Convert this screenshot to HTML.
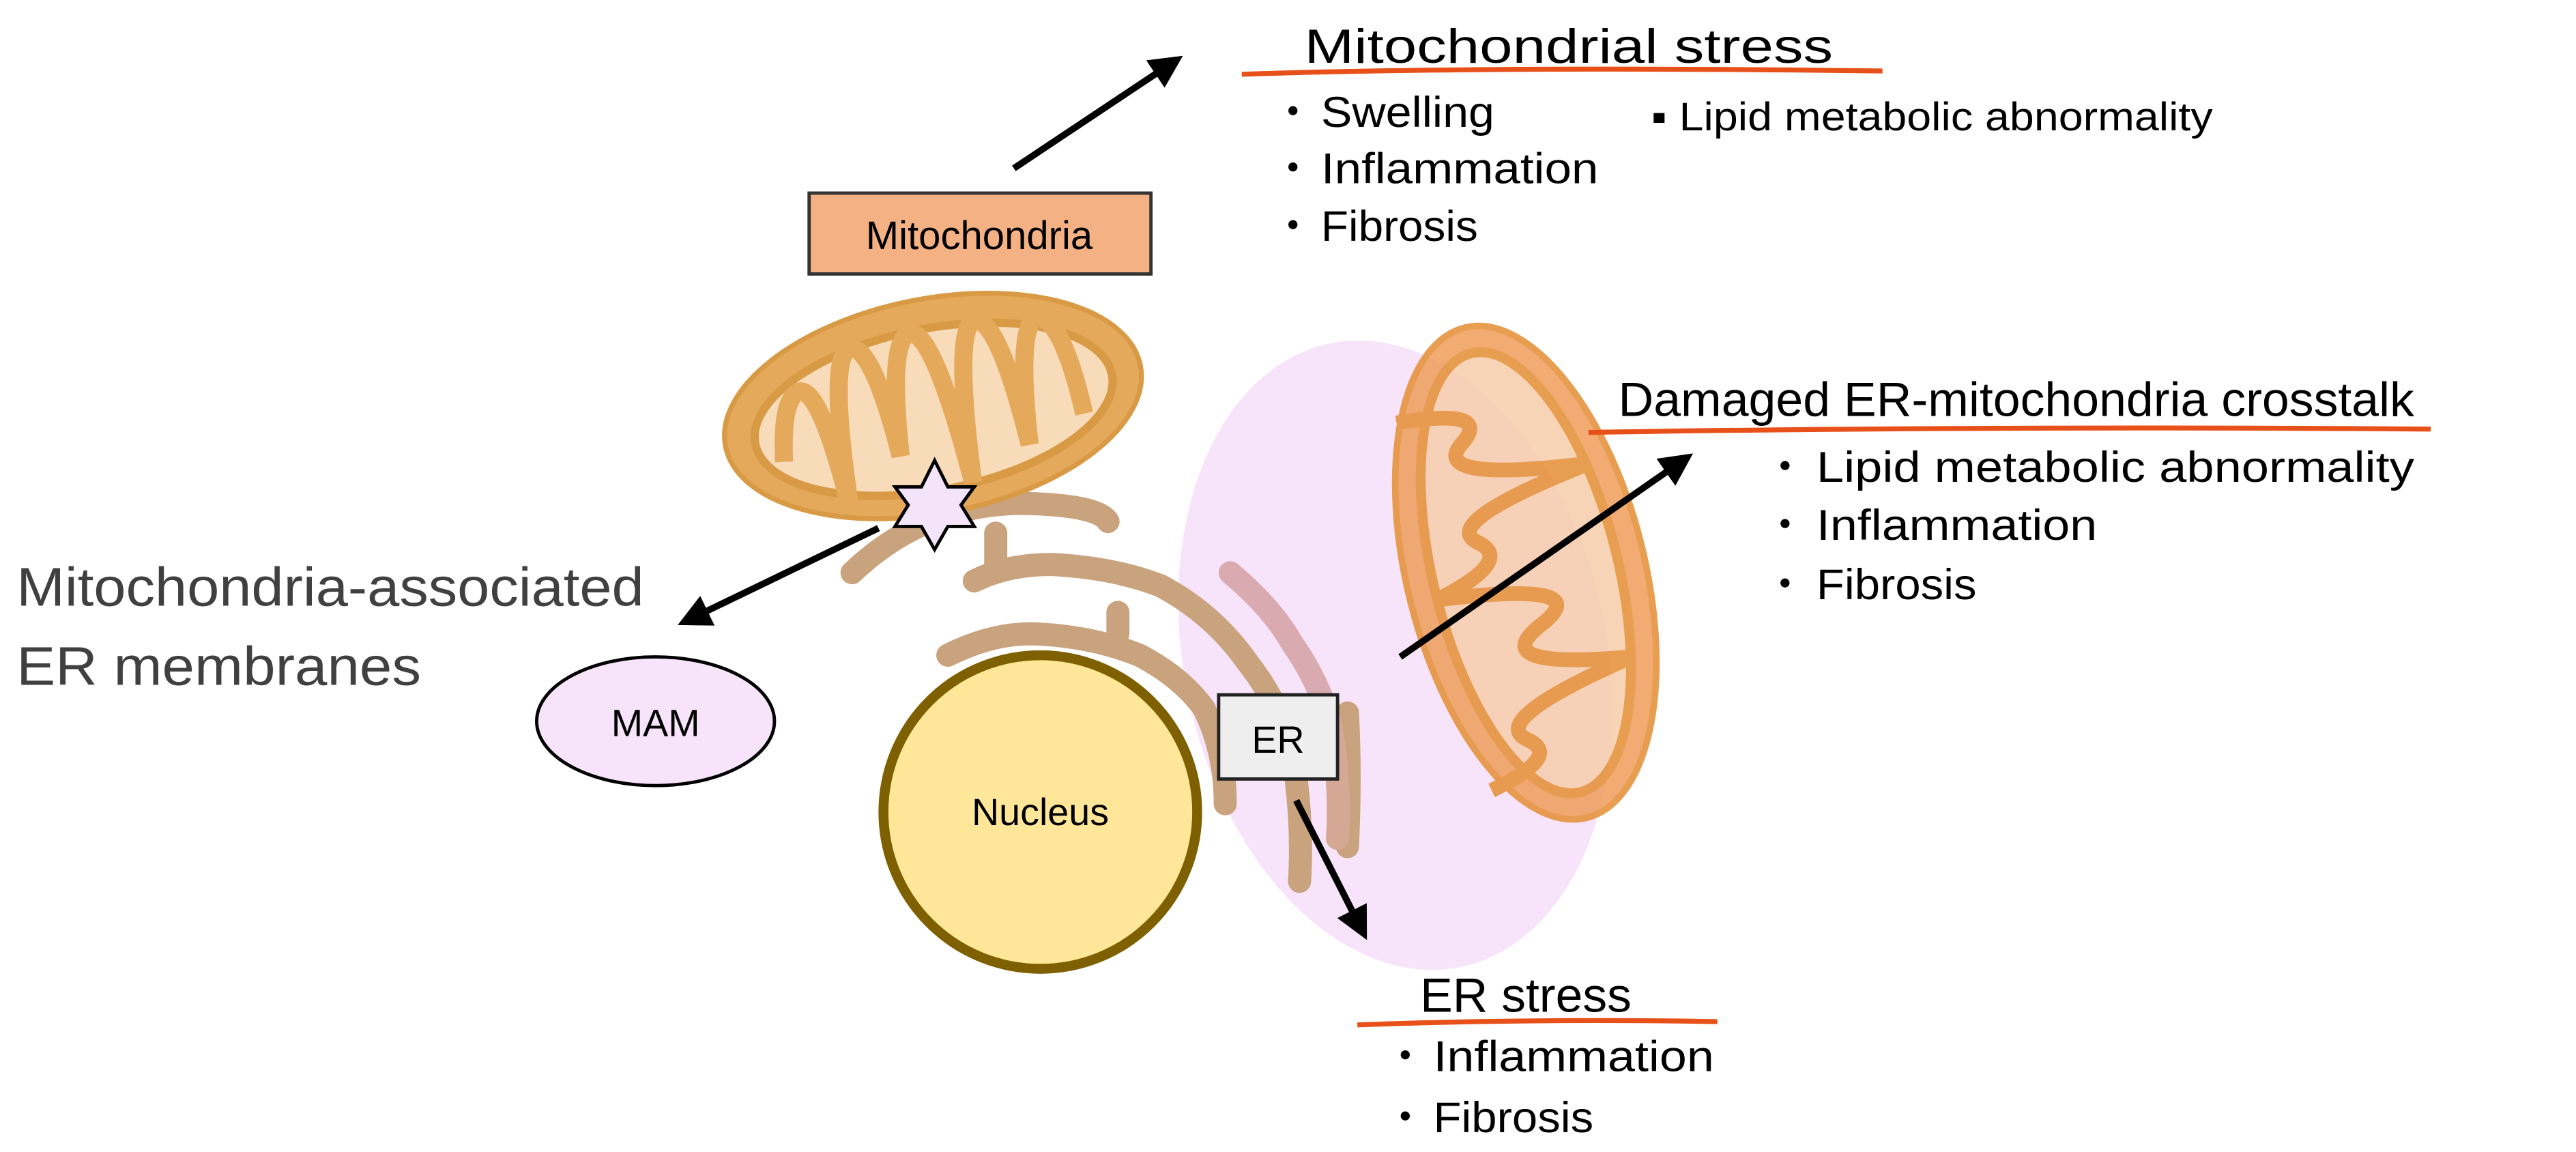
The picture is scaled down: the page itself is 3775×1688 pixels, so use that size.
<!DOCTYPE html>
<html><head><meta charset="utf-8"><style>
html,body{margin:0;padding:0;background:#fff;}
svg{display:block;}
text{font-family:"Liberation Sans",sans-serif;}
</style></head><body>
<svg width="3775" height="1688" viewBox="0 0 1560 698" preserveAspectRatio="none" xmlns="http://www.w3.org/2000/svg">
<defs>
<marker id="ah" markerWidth="5" markerHeight="5" refX="4" refY="2.5" orient="auto" markerUnits="strokeWidth">
<path d="M0,0 L5,2.5 L0,5 z" fill="#000"/></marker>
</defs>
<rect width="1560" height="698" fill="#fff"/>

<!-- pink region -->
<ellipse cx="845" cy="397" rx="128" ry="193" transform="rotate(-12 845 397)" fill="#f7e4fa"/>

<!-- ER bands -->
<g fill="none" stroke="#c9a27e" stroke-width="14" stroke-linecap="round">
<path d="M516,347 Q560,305 620,305 Q665,306 671,316"/>
<path d="M603,323 L603,344"/>
<path d="M590,352 Q610,342 637,342 Q675,344 703,355 Q735,372 756,402 Q778,430 784,465 Q789,500 787,534"/>
<path d="M677,371 L677,384"/>
<path d="M574,397 Q600,384 624,384 Q660,385 690,397 Q715,410 729,429 Q742,455 742,487"/>
<path d="M816,432 Q818,470 816,513"/>
</g>
<path d="M745,347 Q770,368 782,389 Q800,415 806,440" fill="none" stroke="#d6a3a8" stroke-width="14" stroke-linecap="round" opacity="0.9"/>
<path d="M806,440 Q812,475 810,508" fill="none" stroke="#d4a894" stroke-width="14" stroke-linecap="round"/>

<!-- upper mitochondrion -->
<g transform="rotate(-11 565 246)">
<ellipse cx="565" cy="246" rx="128" ry="65" fill="#e5a95c" stroke="#d99a45" stroke-width="3"/>
<ellipse cx="565" cy="248" rx="110" ry="49" fill="#f8dcba" stroke="#d99a45" stroke-width="5"/>
<path d="M470,262 Q476,222 488,222 Q500,224 504,296 Q508,205 522,202 Q536,202 540,272 Q546,200 560,200 Q574,202 580,296 Q586,200 600,200 Q614,202 618,280 Q624,205 638,205 Q652,210 654,268" fill="none" stroke="#e5a95c" stroke-width="11"/>
</g>

<!-- right mitochondrion -->
<g transform="rotate(-14 924 347)" opacity="0.88">
<ellipse cx="924" cy="347" rx="72" ry="153" fill="#f0a060" stroke="#e5913a" stroke-width="4"/>
<ellipse cx="924" cy="347" rx="56" ry="137" fill="#f8cfae" stroke="#e5913a" stroke-width="6"/>
<path d="M870,240 Q930,245 905,262 Q880,280 977,292 Q880,305 900,322 Q920,338 868,350 Q967,362 925,380 Q885,398 974,412 Q880,428 900,445 Q920,460 872,470" fill="none" stroke="#e5913a" stroke-width="9"/>
</g>

<!-- nucleus -->
<circle cx="630" cy="492" r="95" fill="#ffe699" stroke="#7f6000" stroke-width="6"/>
<text x="630" y="500" font-size="23" text-anchor="middle" fill="#000">Nucleus</text>

<!-- star -->
<polygon points="566,279 574,295 590,295 582,306 590,319 574,319 566,333 558,319 542,319 550,306 542,295 558,295" fill="#f4e4fa" stroke="#000" stroke-width="2"/>

<!-- ER box -->
<rect x="738" y="421" width="72" height="51" fill="#eeeeee" stroke="#222" stroke-width="2"/>
<text x="774" y="456" font-size="23" text-anchor="middle">ER</text>

<!-- MAM -->
<ellipse cx="397" cy="437" rx="72" ry="39" fill="#f8e4fa" stroke="#000" stroke-width="2"/>
<text x="397" y="446" font-size="23" text-anchor="middle">MAM</text>

<!-- Mitochondria box -->
<rect x="490" y="117" width="207" height="49" fill="#f4b183" stroke="#333" stroke-width="2"/>
<text x="593" y="151" font-size="24" text-anchor="middle">Mitochondria</text>

<!-- arrows -->
<g stroke="#000" stroke-width="4" fill="none" marker-end="url(#ah)">
<line x1="614" y1="102" x2="713" y2="36"/>
<line x1="532" y1="320" x2="414" y2="377"/>
<line x1="848" y1="398" x2="1022" y2="277"/>
<line x1="785" y1="485" x2="826" y2="566"/>
</g>

<!-- Left label -->
<text x="10" y="367" font-size="33" fill="#404040" textLength="380" lengthAdjust="spacingAndGlyphs">Mitochondria-associated</text>
<text x="10" y="415" font-size="33" fill="#404040" textLength="245" lengthAdjust="spacingAndGlyphs">ER membranes</text>

<!-- Mitochondrial stress -->
<text x="790" y="38" font-size="29" textLength="320" lengthAdjust="spacingAndGlyphs">Mitochondrial stress</text>
<path d="M752,45 Q900,40 1140,43" stroke="#e8501a" stroke-width="3" fill="none"/>
<g font-size="26">
<text x="770" y="77">・</text><text x="800" y="77" textLength="105" lengthAdjust="spacingAndGlyphs">Swelling</text>
<text x="770" y="111">・</text><text x="800" y="111" textLength="168" lengthAdjust="spacingAndGlyphs">Inflammation</text>
<text x="770" y="146">・</text><text x="800" y="146" textLength="95" lengthAdjust="spacingAndGlyphs">Fibrosis</text>
</g>
<text x="1000" y="79" font-size="24" textLength="340" lengthAdjust="spacingAndGlyphs">▪ Lipid metabolic abnormality</text>

<!-- Damaged -->
<text x="980" y="252" font-size="29" textLength="482" lengthAdjust="spacingAndGlyphs">Damaged ER-mitochondria crosstalk</text>
<path d="M962,262 Q1200,258 1472,260" stroke="#e8501a" stroke-width="3" fill="none"/>
<g font-size="26">
<text x="1068" y="292">・</text><text x="1100" y="292" textLength="362" lengthAdjust="spacingAndGlyphs">Lipid metabolic abnormality</text>
<text x="1068" y="327">・</text><text x="1100" y="327" textLength="170" lengthAdjust="spacingAndGlyphs">Inflammation</text>
<text x="1068" y="363">・</text><text x="1100" y="363" textLength="97" lengthAdjust="spacingAndGlyphs">Fibrosis</text>
</g>

<!-- ER stress -->
<text x="860" y="613" font-size="29" textLength="128" lengthAdjust="spacingAndGlyphs">ER stress</text>
<path d="M822,621 Q930,617 1040,619" stroke="#e8501a" stroke-width="3" fill="none"/>
<g font-size="26">
<text x="838" y="649">・</text><text x="868" y="649" textLength="170" lengthAdjust="spacingAndGlyphs">Inflammation</text>
<text x="838" y="686">・</text><text x="868" y="686" textLength="97" lengthAdjust="spacingAndGlyphs">Fibrosis</text>
</g>
</svg>
</body></html>
